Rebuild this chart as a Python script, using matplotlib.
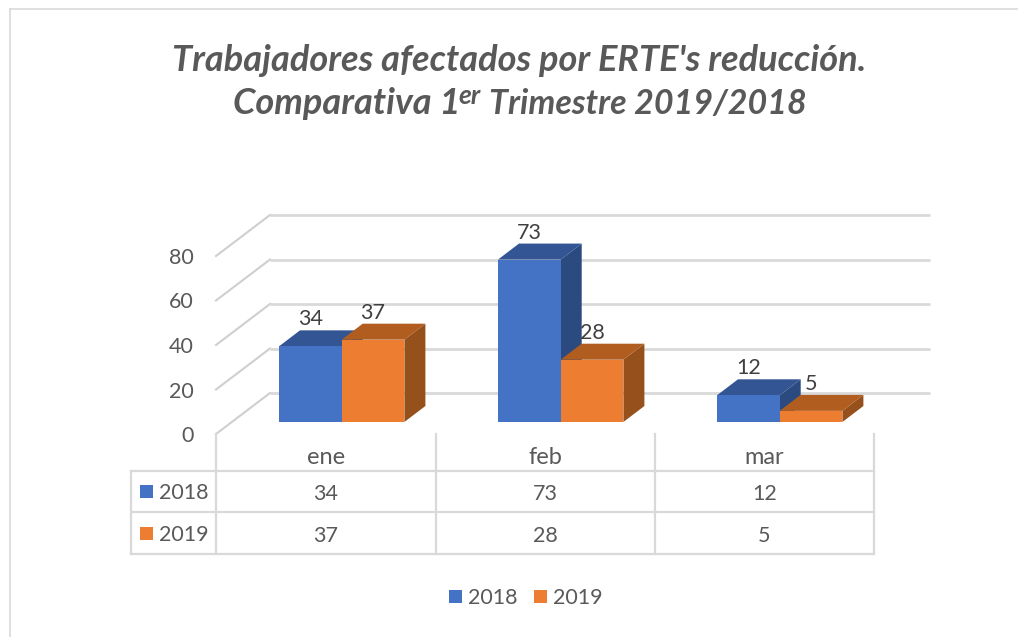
import matplotlib
matplotlib.use('Agg')
import matplotlib.pyplot as plt
from matplotlib.patches import Polygon, Rectangle

plt.rcParams['font.family'] = ['Lato', 'DejaVu Sans']

# datos
months = ['ene', 'feb', 'mar']
series_names = ['2018', '2019']
values_2018 = [34, 73, 12]
values_2019 = [37, 28, 5]
y_ticks = [0, 20, 40, 60, 80]

# colores
front_colors = ['#4472C4', '#ED7D31']
top_colors = ['#335593', '#B15D20']
side_colors = ['#2A4A80', '#96501B']
grid_color = '#D9D9D9'
text_color = '#595959'
label_color = '#404040'

W, H = 1018, 637
fig = plt.figure(figsize=(W / 100, H / 100), dpi=100)
ax = fig.add_axes([0, 0, 1, 1])
ax.set_xlim(0, W)
ax.set_ylim(H, 0)
ax.axis('off')

# geometria en pixeles de la imagen
px_per_unit = 2.225
wall_x0, wall_x1 = 216, 270
wall_y0, wall_dy = 434, 41
grid_right = 930
bar_base = 422
bar_w = 62.7
bar_dx, bar_dy = 21, 16
group_left = [279, 498, 717]
table_x = [131, 216, 436, 655, 874]
table_y = [471, 512, 553.5]


def val_y(v):
    return wall_y0 - v * px_per_unit


# marco exterior
ax.plot([10, 10], [H, 9], color='#D9D9D9', lw=1.2)
ax.plot([10, W], [9, 9], color='#D9D9D9', lw=1.2)

# titulo
title_style = dict(weight='bold', style='italic', color=text_color, va='baseline')
ax.text(519, 71, "Trabajadores afectados por ERTE's reducción.", fontsize=26, ha='center', **title_style)
ax.text(233, 114, "Comparativa 1", fontsize=26, ha='left', **title_style)
ax.text(458, 104, "er", fontsize=19, ha='left', **title_style)
ax.text(807, 114, "Trimestre 2019/2018", fontsize=24.5, ha='right', **title_style)

# paredes y rejilla
for t in y_ticks:
    y = val_y(t)
    ax.plot([wall_x0, wall_x1], [y, y - wall_dy], color='#CFCFCF', lw=1.5, zorder=1)
    ax.plot([wall_x1, grid_right], [y - wall_dy, y - wall_dy], color=grid_color, lw=2,
            zorder=1, solid_capstyle='butt')
    ax.text(194, y + 2, str(t), fontsize=15.5, color=text_color, ha='right', va='center')

# barras 3D
for s, vals in enumerate([values_2018, values_2019]):
    for g, v in enumerate(vals):
        x0 = group_left[g] + s * bar_w
        x1 = x0 + bar_w
        top = bar_base - v * px_per_unit
        z = 3 + s
        ax.add_patch(Polygon([(x1, bar_base), (x1 + bar_dx, bar_base - bar_dy),
                              (x1 + bar_dx, top - bar_dy), (x1, top)],
                             facecolor=side_colors[s], edgecolor='none', zorder=z))
        ax.add_patch(Polygon([(x0, top), (x0 + bar_dx, top - bar_dy),
                              (x1 + bar_dx, top - bar_dy), (x1, top)],
                             facecolor=top_colors[s], edgecolor='none', zorder=z))
        ax.add_patch(Rectangle((x0, top), bar_w, v * px_per_unit,
                               facecolor=front_colors[s], edgecolor='none', zorder=z))
        ax.text((x0 + x1) / 2, top - 27, str(v), fontsize=15.5, color=label_color,
                ha='center', va='center', zorder=6)

# tabla de datos
for x in table_x[1:]:
    ax.plot([x, x], [wall_y0, table_y[-1]], color=grid_color, lw=1.6, zorder=2)
ax.plot([table_x[0], table_x[0]], [table_y[0], table_y[-1]], color=grid_color, lw=1.6, zorder=2)
for y in table_y:
    ax.plot([table_x[0], table_x[-1]], [y, y], color=grid_color, lw=1.6, zorder=2)

for i, m in enumerate(months):
    xc = (table_x[i + 1] + table_x[i + 2]) / 2
    ax.text(xc, 458, m, fontsize=17, color=text_color, ha='center', va='center')
    ax.text(xc, 493.5, str(values_2018[i]), fontsize=15.5, color=text_color, ha='center', va='center')
    ax.text(xc, 535.5, str(values_2019[i]), fontsize=15.5, color=text_color, ha='center', va='center')

for r, name in enumerate(series_names):
    yc = [491, 533][r]
    ax.add_patch(Rectangle((140, yc - 6.5), 13, 13, facecolor=front_colors[r], edgecolor='none'))
    ax.text(159, yc + 2, name, fontsize=15.5, color=text_color, ha='left', va='center')

# leyenda
for x_sq, x_txt, name, c in zip([449, 534], [468, 553], series_names, front_colors):
    ax.add_patch(Rectangle((x_sq, 590), 13, 13, facecolor=c, edgecolor='none'))
    ax.text(x_txt, 598.5, name, fontsize=15.5, color=text_color, ha='left', va='center')

fig.savefig('out.png', dpi=100)
